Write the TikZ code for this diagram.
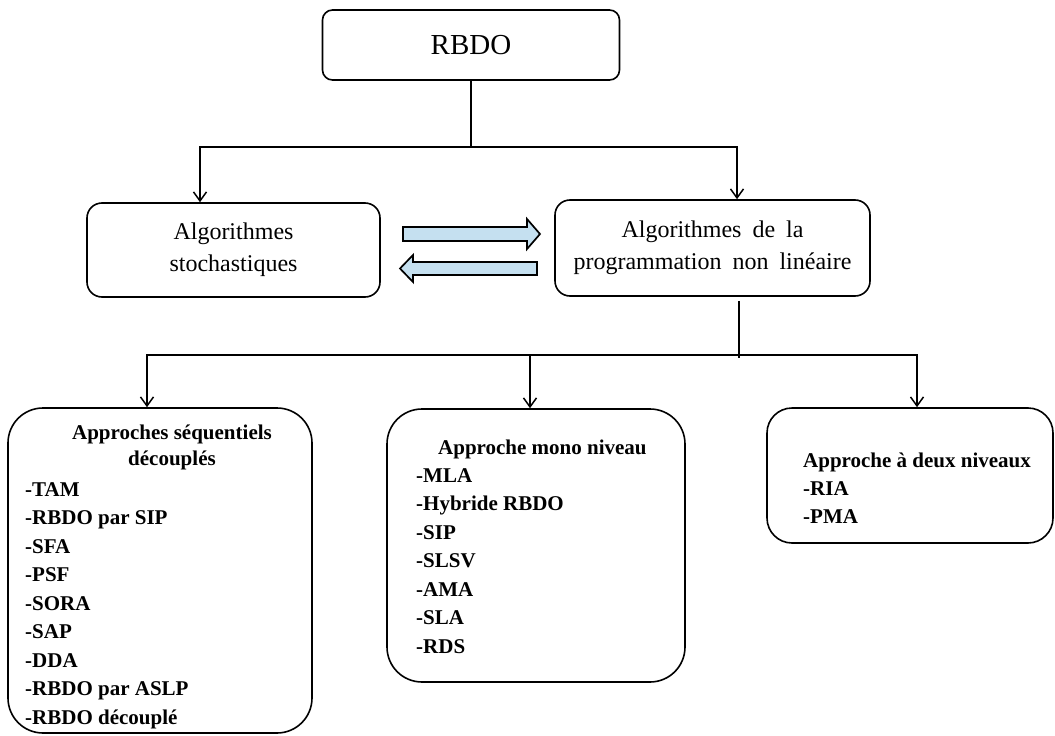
\documentclass[tikz,border=0pt]{standalone}
\usepackage{fontspec}
\setmainfont{Liberation Serif}
\usetikzlibrary{arrows.meta}
\definecolor{arrowblue}{RGB}{197,224,240}
\newcommand\widesp{\spaceskip=11pt plus 2pt\relax}
\begin{document}
\begin{tikzpicture}[x=1pt,y=-1pt,
  box/.style={draw, line width=1.6pt, rounded corners=#1, inner sep=0pt},
  conn/.style={line width=1.7pt},
  arr/.style={conn, -{Straight Barb[length=9pt,width=13pt,line width=1.5pt]}},
  blockarrow/.style={draw, line width=1.7pt, fill=arrowblue, line join=miter},
  midtext/.style={font=\fontsize{24}{32}\selectfont, align=center},
  lst/.style={font=\fontsize{21}{28.5}\selectfont\bfseries, align=left, inner sep=0pt, anchor=north west},
  hd/.style={font=\fontsize{21}{28}\selectfont\bfseries, inner sep=0pt}]
\useasboundingbox (0,0) rectangle (1055,736);

% top level
\node[box=10pt, minimum width=297pt, minimum height=70pt, font=\fontsize{29}{34}\selectfont] (rbdo) at (471,45) {RBDO};

% second level
\node[box=15pt, minimum width=293pt, minimum height=94pt, midtext] (stoch) at (233.5,250) {Algorithmes\\stochastiques};
\node[box=15pt, minimum width=315pt, minimum height=96pt, midtext] (nlp) at (712.5,248) {\widesp Algorithmes de la\\\widesp programmation non linéaire};

% third level boxes
\node[box=35pt, minimum width=304pt, minimum height=325pt] (seq) at (160,570.5) {};
\node[box=35pt, minimum width=298pt, minimum height=273pt] (mono) at (536,545.5) {};
\node[box=25pt, minimum width=286pt, minimum height=135pt] (deux) at (910,475.5) {};

% texts of third level
\node[hd, anchor=north, align=center] (seqh) at (172,424.5) {Approches séquentiels\\[-2pt]découplés};
\node[lst] (seql) at (25,482) {-TAM\\-RBDO par SIP\\-SFA\\-PSF\\-SORA\\-SAP\\-DDA\\-RBDO par ASLP\\-RBDO découplé};

\node[hd, anchor=base west] (monoh) at (438,454) {Approche mono niveau};
\node[lst] (monol) at (416,468) {-MLA\\-Hybride RBDO\\-SIP\\-SLSV\\-AMA\\-SLA\\-RDS};

\node[hd, anchor=base west] (deuxh) at (803,467) {Approche à deux niveaux};
\node[lst] (deuxl) at (803,481) {-RIA\\-PMA};

% connectors top
\coordinate (tL) at (200,147);
\coordinate (tR) at (737,147);
\draw[conn] (rbdo.south) -- (rbdo.south |- tL);
\draw[arr] (rbdo.south |- tL) -- (tL) -- (tL |- stoch.north);
\draw[arr] (rbdo.south |- tL) -- (tR) -- (tR |- nlp.north);

% connectors bottom
\coordinate (nj) at (739,355);
\coordinate (bL) at (147,355);
\coordinate (bM) at (530,355);
\coordinate (bR) at (917,355);
\draw[conn] ([yshift=-4pt]nlp.south -| nj) -- ([yshift=-3pt]nj);
\draw[arr] (bM) -- (bL) -- (bL |- seq.north);
\draw[arr] (bM) -- (bR) -- (bR |- deux.north);
\draw[arr] (bM) -- (bM |- mono.north);

% block arrows between second-level boxes
\draw[blockarrow] (403,227) -- (527,227) -- (527,219) -- (540,234) -- (527,249) -- (527,241) -- (403,241) -- cycle;
\draw[blockarrow] (537,262) -- (413,262) -- (413,255) -- (400,268.5) -- (413,282) -- (413,275) -- (537,275) -- cycle;
\end{tikzpicture}
\end{document}
